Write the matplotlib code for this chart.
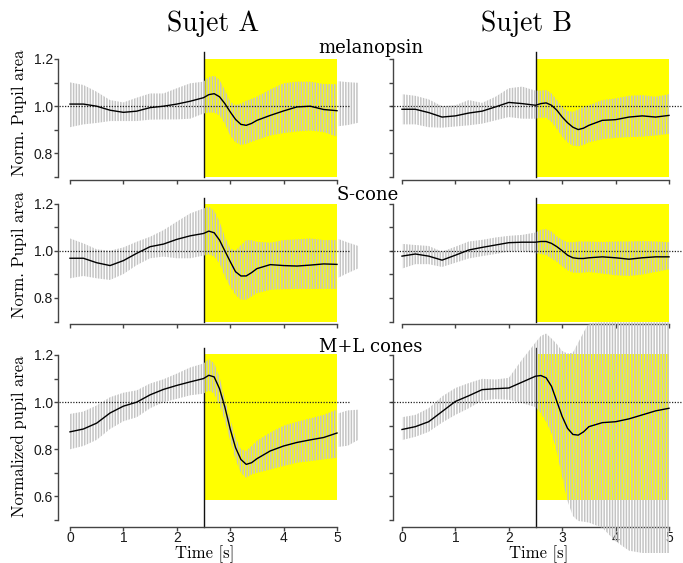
import numpy as np
import matplotlib.pyplot as plt
from matplotlib.patches import Rectangle
from matplotlib.transforms import blended_transform_factory

plt.rcParams['font.family'] = ['Liberation Sans', 'DejaVu Sans']
plt.rcParams['hatch.linewidth'] = 1.1
plt.rcParams['hatch.color'] = '#c4c4c4'

# time grid (s), shared by every panel
t = [0, 0.25, 0.5, 0.75, 1.0, 1.25, 1.5, 1.75, 2.0, 2.25, 2.5, 2.6, 2.7, 2.8, 2.9,
     3.0, 3.1, 3.2, 3.3, 3.4, 3.5, 3.75, 4.0, 4.25, 4.5, 4.75, 5.0]

# melanopsin, subject A
melA_mean = [1.009, 1.009, 1.0, 0.983, 0.974, 0.979, 0.994, 1.0, 1.009, 1.021, 1.036, 1.049, 1.053, 1.04,
             1.011, 0.976, 0.944, 0.923, 0.919, 0.927, 0.94, 0.961, 0.98, 0.997, 1.0, 0.986, 0.981]
melA_hi = [1.101, 1.09, 1.061, 1.026, 1.016, 1.036, 1.054, 1.054, 1.076, 1.097, 1.104, 1.123, 1.129, 1.111,
           1.069, 1.019, 1.004, 1.011, 1.023, 1.031, 1.04, 1.071, 1.097, 1.104, 1.104, 1.094, 1.093]
melA_lo = [0.911, 0.923, 0.929, 0.937, 0.937, 0.937, 0.943, 0.944, 0.944, 0.947, 0.969, 0.973, 0.973, 0.961,
           0.926, 0.876, 0.847, 0.836, 0.84, 0.849, 0.857, 0.876, 0.886, 0.893, 0.897, 0.89, 0.871]
# melanopsin, subject B
melB_mean = [0.987, 0.987, 0.973, 0.954, 0.959, 0.971, 0.979, 0.997, 1.016, 1.011, 1.004, 1.011, 1.014, 1.004,
             0.983, 0.954, 0.93, 0.911, 0.901, 0.907, 0.919, 0.94, 0.943, 0.954, 0.959, 0.954, 0.961]
melB_hi = [1.051, 1.044, 1.029, 1.0, 1.004, 1.026, 1.014, 1.04, 1.076, 1.083, 1.066, 1.066, 1.069, 1.054,
           1.026, 0.997, 0.98, 0.976, 0.986, 0.997, 1.004, 1.026, 1.033, 1.044, 1.047, 1.04, 1.051]
melB_lo = [0.923, 0.923, 0.911, 0.909, 0.914, 0.919, 0.926, 0.94, 0.954, 0.947, 0.947, 0.951, 0.951, 0.933,
           0.904, 0.871, 0.847, 0.833, 0.83, 0.836, 0.847, 0.86, 0.866, 0.869, 0.871, 0.876, 0.883]
# S-cone, subject A
sA_mean = [0.968, 0.968, 0.949, 0.937, 0.958, 0.989, 1.017, 1.028, 1.048, 1.063, 1.073, 1.083, 1.076, 1.045,
           0.999, 0.954, 0.911, 0.893, 0.893, 0.907, 0.924, 0.941, 0.937, 0.935, 0.939, 0.944, 0.942]
sA_hi = [1.052, 1.031, 1.006, 1.0, 1.014, 1.038, 1.059, 1.087, 1.123, 1.158, 1.179, 1.186, 1.169, 1.123,
         1.059, 1.01, 0.999, 1.024, 1.045, 1.045, 1.038, 1.034, 1.045, 1.048, 1.052, 1.045, 1.045]
sA_lo = [0.883, 0.893, 0.883, 0.876, 0.901, 0.939, 0.968, 0.975, 0.968, 0.968, 0.979, 0.985, 0.975, 0.946,
         0.89, 0.848, 0.813, 0.792, 0.792, 0.806, 0.82, 0.834, 0.837, 0.838, 0.838, 0.838, 0.838]
# S-cone, subject B
sB_mean = [0.977, 0.986, 0.977, 0.96, 0.981, 1.003, 1.014, 1.024, 1.034, 1.036, 1.036, 1.039, 1.039, 1.031,
           1.017, 1.0, 0.981, 0.97, 0.967, 0.967, 0.97, 0.974, 0.97, 0.964, 0.97, 0.974, 0.974]
sB_hi = [1.029, 1.024, 1.02, 0.996, 1.017, 1.039, 1.046, 1.056, 1.063, 1.067, 1.077, 1.089, 1.091, 1.081,
         1.06, 1.046, 1.036, 1.036, 1.039, 1.039, 1.039, 1.037, 1.039, 1.039, 1.041, 1.039, 1.036]
sB_lo = [0.924, 0.943, 0.943, 0.931, 0.949, 0.967, 0.977, 0.986, 0.996, 1.0, 0.989, 0.986, 0.981, 0.967,
         0.953, 0.934, 0.917, 0.907, 0.906, 0.907, 0.91, 0.903, 0.896, 0.893, 0.899, 0.91, 0.921]
# M+L cones, subject A
mlA_mean = [0.874, 0.886, 0.911, 0.954, 0.983, 1.0, 1.031, 1.054, 1.071, 1.086, 1.1, 1.114, 1.107, 1.057,
            0.979, 0.886, 0.807, 0.757, 0.736, 0.743, 0.76, 0.793, 0.814, 0.829, 0.84, 0.85, 0.869]
mlA_hi = [0.95, 0.96, 0.986, 1.021, 1.04, 1.05, 1.079, 1.097, 1.121, 1.147, 1.164, 1.183, 1.164, 1.107,
          1.014, 0.929, 0.85, 0.8, 0.793, 0.814, 0.836, 0.871, 0.9, 0.917, 0.931, 0.946, 0.969]
mlA_lo = [0.8, 0.814, 0.84, 0.886, 0.919, 0.936, 0.974, 1.0, 1.014, 1.029, 1.036, 1.05, 1.036, 0.986,
          0.921, 0.836, 0.757, 0.7, 0.679, 0.693, 0.7, 0.714, 0.729, 0.743, 0.75, 0.757, 0.764]
# M+L cones, subject B
mlB_mean = [0.884, 0.896, 0.917, 0.96, 1.003, 1.027, 1.053, 1.057, 1.06, 1.085, 1.11, 1.113, 1.103, 1.067,
            1.003, 0.939, 0.889, 0.863, 0.86, 0.874, 0.896, 0.913, 0.917, 0.929, 0.946, 0.963, 0.974]
mlB_hi = [0.936, 0.946, 0.974, 1.024, 1.06, 1.081, 1.099, 1.096, 1.103, 1.181, 1.253, 1.281, 1.291, 1.27,
          1.246, 1.217, 1.206, 1.21, 1.253, 1.296, 1.336, 1.339, 1.339, 1.339, 1.339, 1.339, 1.339]
mlB_lo = [0.839, 0.853, 0.874, 0.913, 0.946, 0.974, 1.007, 1.013, 1.01, 0.996, 0.979, 0.953, 0.917, 0.867,
          0.789, 0.681, 0.581, 0.517, 0.496, 0.493, 0.489, 0.467, 0.41, 0.37, 0.36, 0.36, 0.36]

# small band pieces showing just right of the left panels
spill_t = [5.02, 5.2, 5.4]
spill_hi = [[1.106, 1.102, 1.099], [1.05, 1.035, 1.02], [0.952, 0.965, 0.968]]
spill_lo = [[0.915, 0.92, 0.93], [0.885, 0.905, 0.925], [0.81, 0.815, 0.84]]

stim_on, stim_off = 2.5, 5.0
row_titles = ['melanopsin', 'S-cone', 'M+L cones']
col_titles = ['Sujet A', 'Sujet B']

panels = [[(melA_mean, melA_lo, melA_hi), (melB_mean, melB_lo, melB_hi)],
          [(sA_mean, sA_lo, sA_hi), (sB_mean, sB_lo, sB_hi)],
          [(mlA_mean, mlA_lo, mlA_hi), (mlB_mean, mlB_lo, mlB_hi)]]

W, H = 683, 563
fig = plt.figure(figsize=(W / 100, H / 100), dpi=100)

col_x = [70, 402]
ax_w = 267
rows_px = [(59, 177), (203.5, 321.5), (355, 520)]
ylims = [(0.7, 1.2), (0.7, 1.2), (0.5, 1.2)]
yellow_y = [(0.7, 1.2), (0.7, 1.2), (0.585, 1.205)]
stim_line_y = [(0.7, 1.23), (0.7, 1.225), (0.47, 1.23)]
bottom_off = [2.2, 1.8, 4.8]
left_off = [8.6, 6.5]
spine_col = '#444444'
band_col = '#c4c4c4'
band_hatch = '|' * 6

for r in range(3):
    top, bot = rows_px[r]
    for c in range(2):
        ax = fig.add_axes([col_x[c] / W, (H - bot) / H, ax_w / W, (bot - top) / H])
        ax.set_facecolor('none')
        mean, lo, hi = panels[r][c]

        ax.add_patch(Rectangle((stim_on, yellow_y[r][0]), stim_off - stim_on,
                               yellow_y[r][1] - yellow_y[r][0],
                               facecolor='#ffff00', edgecolor='none', zorder=1, clip_on=False))
        ax.plot([stim_on, stim_on], stim_line_y[r], color='#111111', lw=1.0,
                zorder=2, clip_on=False)

        ax.fill_between(t, lo, hi, facecolor='none', edgecolor=band_col, hatch=band_hatch,
                        linewidth=0, zorder=3, clip_on=False)
        if c == 0:
            ax.fill_between(spill_t, spill_lo[r], spill_hi[r], facecolor='none',
                            edgecolor=band_col, hatch=band_hatch, linewidth=0, zorder=3,
                            clip_on=False)

        tr = blended_transform_factory(ax.transAxes, ax.transData)
        ax.plot([-0.04, 1.045], [1.0, 1.0], transform=tr, color='#222222', lw=0.9,
                ls=(0, (1, 1.2)), zorder=4, clip_on=False)
        ax.plot(t, mean, color='black', lw=1.0, zorder=5, clip_on=False)

        ax.set_xlim(0, 5)
        ax.set_ylim(*ylims[r])
        for s in ['top', 'right']:
            ax.spines[s].set_visible(False)
        ax.spines['left'].set_position(('outward', left_off[c]))
        ax.spines['bottom'].set_position(('outward', bottom_off[r]))
        for s in ['left', 'bottom']:
            ax.spines[s].set_color(spine_col)
            ax.spines[s].set_linewidth(1.0)

        ax.set_xticks(range(6))
        yt = np.round(np.arange(ylims[r][0], 1.2001, 0.1), 1)
        ax.set_yticks(yt)
        if c == 0:
            ax.set_yticklabels(['%.1f' % v if round(v * 10) % 2 == 0 else '' for v in yt])
        else:
            ax.set_yticklabels([])
        if r < 2:
            ax.set_xticklabels([])
        ax.tick_params(direction='out', length=2.8, width=1.0, color=spine_col,
                       labelsize=10, labelcolor='#1a1a1a', pad=1)
        ax.tick_params(axis='x', pad=0)

# titles and labels
for c, (xc, title) in enumerate(zip([213, 527], col_titles)):
    fig.text(xc / W, (H - 31) / H, title, family='cmr10', fontsize=20,
             ha='center', va='baseline')
    fig.text([205, 539][c] / W, (H - 554) / H, 'Time [s]', family='cmr10', fontsize=12,
             ha='center', va='center')

for txt, xc, yb in zip(row_titles, [371, 368, 371], [53, 200.5, 351.5]):
    fig.text(xc / W, (H - yb) / H, txt, family='DejaVu Serif', fontsize=13,
             ha='center', va='baseline')

for txt, yc in zip(['Norm. Pupil area', 'Norm. Pupil area', 'Normalized pupil area'],
                   [112.5, 255, 436]):
    fig.text(19 / W, (H - yc) / H, txt, family='cmr10', fontsize=12, rotation=90,
             ha='center', va='center')

fig.savefig('out.png', dpi=100)
